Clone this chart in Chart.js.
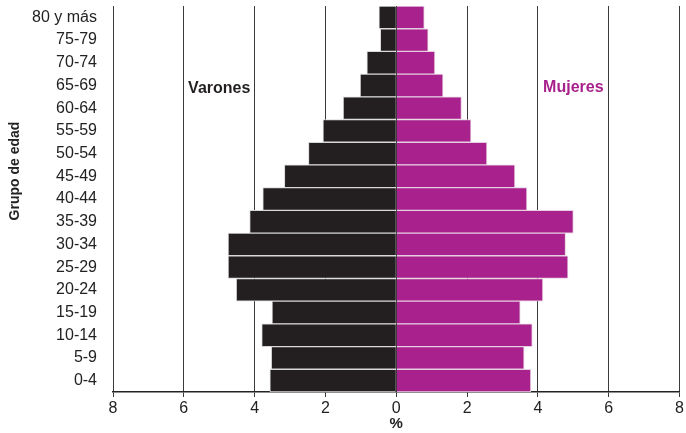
<!DOCTYPE html>
<html>
<head>
<meta charset="utf-8">
<script src="https://cdn.jsdelivr.net/npm/chart.js@4/dist/chart.umd.min.js"></script>
<style>
  body { margin: 0; background: #fff; }
  canvas { display: block; }
</style>
</head>
<body>
<canvas id="pyramid" width="686" height="433"></canvas>
<script>
const ageGroups = ['80 y más', '75-79', '70-74', '65-69', '60-64', '55-59', '50-54', '45-49',
    '40-44', '35-39', '30-34', '25-29', '20-24', '15-19', '10-14', '5-9', '0-4'];

// porcentaje de la población, varones a la izquierda (negativos)
const varones = [0.49, 0.45, 0.83, 1.02, 1.50, 2.07, 2.48, 3.16,
    3.77, 4.14, 4.75, 4.75, 4.52, 3.51, 3.80, 3.53, 3.57];
const mujeres = [0.79, 0.90, 1.09, 1.32, 1.84, 2.11, 2.56, 3.35,
    3.69, 5.00, 4.78, 4.85, 4.14, 3.50, 3.84, 3.61, 3.80];

const xTicks = [-8, -6, -4, -2, 0, 2, 4, 6, 8];

const MALE_COLOR = '#231f20';
const FEMALE_COLOR = '#a8218c';
const FONT = '"Liberation Sans", Arial, Helvetica, sans-serif';

const labelsPlugin = {
    id: 'labelsPlugin',
    afterDraw(chart) {
        const { ctx, scales: { x, y } } = chart;
        ctx.save();
        ctx.textAlign = 'center';
        ctx.textBaseline = 'middle';
        ctx.font = 'bold 16px ' + FONT;
        ctx.fillStyle = MALE_COLOR;
        ctx.fillText('Varones', x.getPixelForValue(-5), y.getPixelForValue(3) + 3);
        ctx.fillStyle = FEMALE_COLOR;
        ctx.fillText('Mujeres', x.getPixelForValue(5), y.getPixelForValue(3) + 2);

        ctx.translate(15, 171);
        ctx.rotate(-Math.PI / 2);
        ctx.font = 'bold 14px ' + FONT;
        ctx.fillStyle = '#222';
        ctx.fillText('Grupo de edad', 0, 0);
        ctx.restore();
    }
};

const ctx = document.getElementById('pyramid').getContext('2d');

new Chart(ctx, {
    type: 'bar',
    data: {
        labels: ageGroups,
        datasets: [{
            label: 'Varones',
            data: varones.map(v => -v),
            backgroundColor: MALE_COLOR,
            borderColor: '#d9d9d9',
            borderWidth: 1,
            barPercentage: 1,
            categoryPercentage: 1
        }, {
            label: 'Mujeres',
            data: mujeres,
            backgroundColor: FEMALE_COLOR,
            borderColor: '#e6cfe0',
            borderWidth: 1,
            barPercentage: 1,
            categoryPercentage: 1
        }]
    },
    options: {
        indexAxis: 'y',
        responsive: false,
        animation: false,
        layout: {
            padding: { top: 6, right: 5, bottom: 0, left: 0 }
        },
        scales: {
            x: {
                stacked: true,
                min: -8,
                max: 8,
                afterBuildTicks: scale => {
                    scale.ticks = xTicks.map(v => ({ value: v }));
                },
                afterFit: scale => {
                    scale.height = 41;
                },
                grid: {
                    color: '#3a3a3a',
                    lineWidth: 1,
                    tickLength: 5
                },
                border: {
                    display: true,
                    color: '#222',
                    width: 1.5
                },
                ticks: {
                    color: '#222',
                    padding: 2,
                    font: { family: FONT, size: 16 },
                    callback: value => Math.abs(value)
                },
                title: {
                    display: true,
                    text: '%',
                    color: '#222',
                    padding: 0,
                    font: { family: FONT, size: 15, weight: 'bold' }
                }
            },
            y: {
                stacked: true,
                afterFit: scale => {
                    scale.width = 113;
                    scale.paddingTop = 0;
                    scale.paddingBottom = 0;
                },
                grid: {
                    display: false,
                    drawTicks: false
                },
                border: {
                    display: false
                },
                ticks: {
                    color: '#222',
                    padding: 16,
                    autoSkip: false,
                    font: { family: FONT, size: 16 }
                }
            }
        },
        plugins: {
            legend: {
                display: false
            },
            tooltip: {
                enabled: false
            }
        }
    },
    plugins: [labelsPlugin]
});
</script>
</body>
</html>
